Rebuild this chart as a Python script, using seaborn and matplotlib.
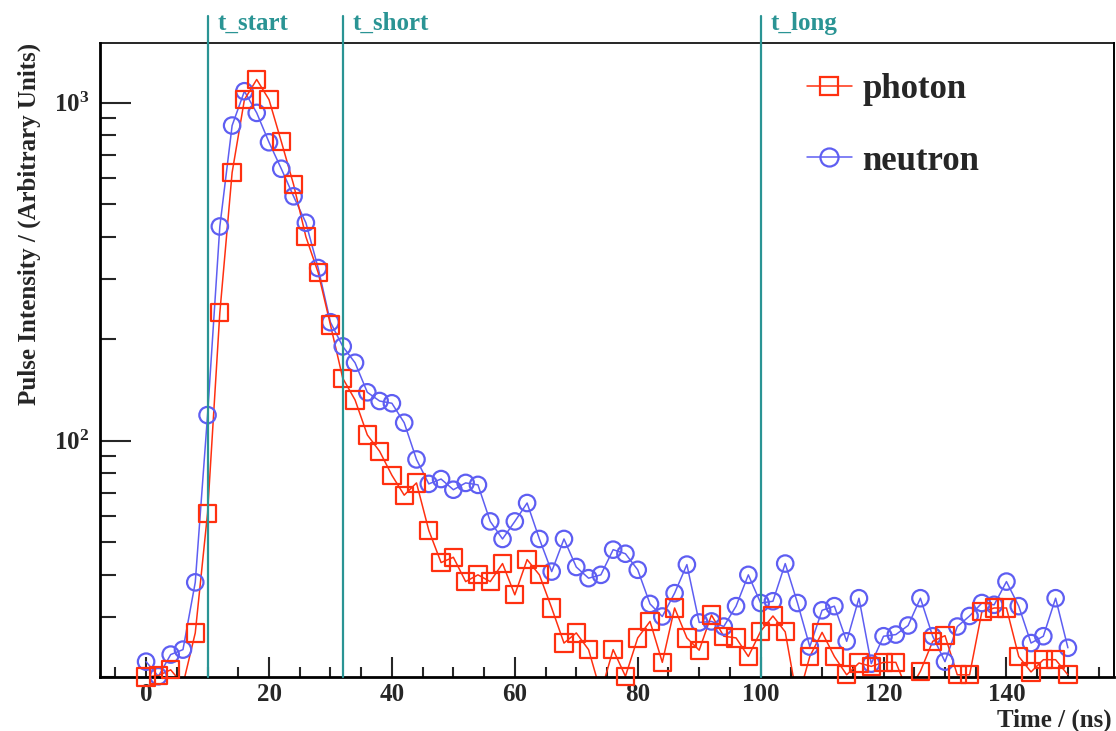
import matplotlib
matplotlib.use("Agg")
import matplotlib.pyplot as plt
from matplotlib.lines import Line2D
from matplotlib.ticker import MultipleLocator, LogLocator, NullFormatter
import pandas as pd
import seaborn as sns

# Sampling times of the digitised pulse (ns)
time_ns = list(range(0, 152, 2))

# Average pulse shapes (arbitrary units)
photon = [20.0, 20.2, 21.0, 19.0, 27.0, 61.0, 239, 621, 1020, 1170,
          1020, 767, 572, 401, 314, 220, 153, 132, 104, 93,
          79, 69, 75, 54.3, 43.6, 45.2, 38.3, 40.1, 38.3, 43.3,
          35.0, 44.5, 40.1, 32.0, 25.2, 27.0, 24.1, 18.0, 24.1, 20.1,
          26.1, 29.2, 22.1, 32.0, 26.1, 24.0, 30.5, 26.4, 26.1, 23.0,
          27.3, 30.3, 27.2, 17.0, 23.0, 27.1, 23.0, 20.3, 22.0, 21.5,
          22.1, 22.1, 18.0, 20.8, 25.5, 26.5, 20.3, 20.3, 31.2, 32.0,
          32.0, 23.0, 20.7, 22.5, 22.5, 20.3]
neutron = [22.2, 20.1, 23.3, 24.1, 38.1, 119, 430, 855, 1080, 932,
           763, 637, 528, 441, 324, 224, 190, 170, 139, 131,
           129, 113, 88, 74.5, 77, 71.6, 75, 74, 57.7, 51.2,
           57.7, 65.4, 51.2, 41.0, 51.2, 42.3, 39.2, 40.1, 47.6, 46.3,
           41.5, 32.9, 30.2, 35.4, 43.0, 29.0, 29.2, 28.2, 32.4, 40.1,
           33.1, 33.5, 43.3, 33.1, 24.6, 31.5, 32.4, 25.5, 34.2, 21.9,
           26.4, 26.7, 28.4, 34.2, 26.4, 22.2, 28.2, 30.3, 33.1, 32.7,
           38.3, 32.4, 25.2, 26.4, 34.2, 24.4]

series_names = ["photon", "neutron"]
gate_times = [10, 32, 100]
gate_labels = ["t_start", "t_short", "t_long"]

y_min, y_max = 20, 1500
x_min, x_max = -7.5, 157.5

colors = {"photon": "#ff3010", "neutron": "#5e5ef2"}
markers = {"photon": "s", "neutron": "o"}
marker_area = {"photon": 155, "neutron": 140}
gate_color = "#2a9494"

sns.set_style("white")
plt.rcParams.update({
    "font.family": ["Liberation Serif", "DejaVu Serif"],
    "font.weight": "bold",
    "mathtext.fontset": "custom",
    "mathtext.rm": "Liberation Serif:bold",
    "mathtext.it": "Liberation Serif:bold:italic",
    "mathtext.bf": "Liberation Serif:bold",
    "axes.linewidth": 1.5,
    "axes.edgecolor": "black",
})

df = pd.DataFrame({
    "time": time_ns * 2,
    "intensity": photon + neutron,
    "particle": ["photon"] * len(photon) + ["neutron"] * len(neutron),
})

fig = plt.figure(figsize=(11.16, 7.31), dpi=100)
ax = fig.add_axes([100 / 1116, 1 - 677 / 731, 1014 / 1116, 634 / 731])
ax.set_yscale("log")

# connecting lines (clipped to the frame)
sns.lineplot(data=df, x="time", y="intensity", hue="particle",
             hue_order=["neutron", "photon"], palette=colors,
             estimator=None, sort=False, linewidth=1.1, legend=False, ax=ax)

# open markers, only for points inside the plotted range
for name in ["neutron", "photon"]:
    sub = df[(df["particle"] == name) & (df["intensity"] >= y_min)]
    sns.scatterplot(data=sub, x="time", y="intensity", marker=markers[name],
                    s=marker_area[name], color=colors[name], facecolor="none",
                    edgecolor=colors[name], linewidth=1.6, clip_on=False,
                    legend=False, zorder=3, ax=ax)

ax.set_xlim(x_min, x_max)
ax.set_ylim(y_min, y_max)

# integration gates
for t, lab in zip(gate_times, gate_labels):
    ax.axvline(t, ymin=0, ymax=1.043, color=gate_color, lw=1.6, clip_on=False, zorder=4)
    ax.text(t + 1.6, 1.031, lab, transform=ax.get_xaxis_transform(),
            color=gate_color, fontsize=18, fontweight="bold",
            ha="left", va="center")

# ticks
ax.xaxis.set_major_locator(MultipleLocator(20))
ax.xaxis.set_minor_locator(MultipleLocator(5))
ax.yaxis.set_major_locator(LogLocator(base=10))
ax.yaxis.set_minor_locator(LogLocator(base=10, subs=range(2, 10)))
ax.yaxis.set_minor_formatter(NullFormatter())
ax.tick_params(axis="x", which="major", direction="in", length=14.5, width=1.5,
               labelsize=18, pad=4, top=False, bottom=True)
ax.tick_params(axis="x", which="minor", direction="in", length=7.2, width=1.5,
               top=False, bottom=True)
ax.tick_params(axis="y", which="major", direction="in", length=22, width=1.5,
               labelsize=18, pad=8, right=False, left=True)
ax.tick_params(axis="y", which="minor", direction="in", length=11.5, width=1.5,
               right=False, left=True)

for side in ["top", "right", "left", "bottom"]:
    ax.spines[side].set_visible(True)
    ax.spines[side].set_color("black")
ax.spines["top"].set_linewidth(1.2)
ax.spines["right"].set_linewidth(1.4)
ax.spines["left"].set_linewidth(2.0)
ax.spines["bottom"].set_linewidth(2.0)

ax.set_xlabel("Time / (ns)", fontsize=18, fontweight="bold", loc="right")
ax.set_ylabel("Pulse Intensity / (Arbitrary Units)", fontsize=18,
              fontweight="bold", loc="top")
ax.xaxis.set_label_coords(0.998, -0.05)
ax.yaxis.set_label_coords(-0.058, 1.0)

handles = [
    Line2D([], [], color=colors[n], lw=1.1, marker=markers[n], markersize=13,
           markerfacecolor="none", markeredgecolor=colors[n], markeredgewidth=1.6)
    for n in series_names
]
ax.legend(handles, series_names, loc="upper left", bbox_to_anchor=(0.697, 0.952),
          frameon=False, prop={"family": "Liberation Serif", "weight": "bold", "size": 25},
          handlelength=1.3, handletextpad=0.3, labelspacing=1.1,
          borderaxespad=0, borderpad=0)

fig.savefig("out.png", dpi=100)
